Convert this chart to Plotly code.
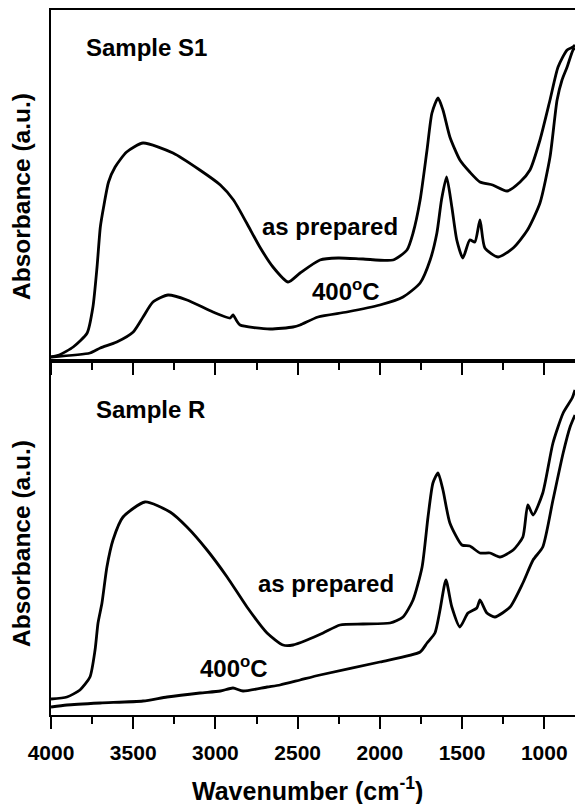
import plotly.graph_objects as go

# ---- data (wavenumber cm^-1, absorbance arbitrary units) ----
s1_prep_wn = [4000, 3950, 3865, 3780, 3745, 3720, 3700, 3680, 3650, 3610, 3540, 3440, 3258, 3095, 2970,
              2890, 2810, 2730, 2650, 2558, 2485, 2364, 2254, 2102, 1920, 1835, 1798, 1755, 1713, 1683,
              1646, 1616, 1574, 1513, 1453, 1391, 1314, 1226, 1147, 1087, 1026, 965, 916, 861, 825, 813]
s1_prep_ab = [4, 6, 14, 28, 54, 94, 134, 154, 179, 194, 209, 218, 208, 191, 176,
              161, 138, 114, 94, 79, 88, 101, 103, 102, 101, 111, 128, 161, 211, 248,
              263, 251, 224, 201, 189, 179, 176, 170, 179, 191, 221, 261, 294, 311, 314, 316]

s1_400_wn = [4000, 3763, 3700, 3600, 3500, 3440, 3380, 3288, 3173, 3015, 2910, 2893, 2870, 2850, 2668,
             2528, 2485, 2376, 2200, 2000, 1859, 1755, 1694, 1653, 1625, 1594, 1562, 1532, 1495, 1453,
             1422, 1391, 1361, 1280, 1189, 1102, 1026, 965, 922, 892, 861, 825, 813]
s1_400_ab = [4, 8, 13, 19, 29, 44, 59, 66, 61, 49, 43, 46, 40, 36, 32,
             34, 36, 44, 49, 56, 64, 78, 101, 128, 161, 184, 154, 121, 103, 121,
             119, 141, 113, 104, 113, 131, 158, 204, 261, 281, 294, 311, 313]

r_prep_wn = [4000, 3903, 3824, 3763, 3732, 3714, 3690, 3660, 3623, 3562, 3428, 3276, 3173, 3051, 2929,
             2808, 2686, 2589, 2528, 2443, 2345, 2242, 2102, 1938, 1859, 1798, 1743, 1707, 1677, 1646,
             1616, 1574, 1501, 1453, 1391, 1330, 1270, 1189, 1130, 1100, 1068, 1009, 947, 885, 830, 813]
r_prep_ab = [16, 18, 25, 38, 65, 92, 112, 148, 175, 198, 213, 203, 188, 165, 138,
             108, 82, 70, 70, 75, 82, 90, 91, 92, 98, 115, 148, 198, 232, 242,
             225, 192, 170, 169, 162, 162, 158, 165, 178, 210, 200, 222, 272, 302, 317, 325]

r_400_wn = [4000, 3903, 3700, 3440, 3294, 3094, 2970, 2893, 2832, 2686, 2607, 2485, 2364, 2000, 1755,
            1713, 1665, 1634, 1598, 1562, 1513, 1464, 1410, 1391, 1349, 1300, 1208, 1130, 1068, 1009,
            947, 885, 843, 813]
r_400_ab = [8, 10, 12, 14, 18, 22, 24, 27, 24, 28, 30, 35, 40, 53, 63,
            72, 82, 105, 135, 108, 88, 102, 107, 115, 102, 98, 108, 132, 155, 168,
            215, 262, 288, 300]

x_tickvals = [4000, 3500, 3000, 2500, 2000, 1500, 1000]
x_ticktext = ["4000", "3500", "3000", "2500", "2000", "1500", "1000"]

FONT = "Arial, Liberation Sans, sans-serif"
LW = 2.8

fig = go.Figure()
for xs, ys, xa, ya in [(s1_prep_wn, s1_prep_ab, "x2", "y2"), (s1_400_wn, s1_400_ab, "x2", "y2"),
                       (r_prep_wn, r_prep_ab, "x", "y"), (r_400_wn, r_400_ab, "x", "y")]:
    fig.add_trace(go.Scatter(x=xs, y=ys, mode="lines",
                             line=dict(color="black", width=LW, shape="spline", smoothing=0.6),
                             xaxis=xa, yaxis=ya))

split = 354 / 705

xcommon = dict(range=[4000, 813], showline=True, linecolor="black", linewidth=2, mirror=True,
               ticks="outside", ticklen=12, tickwidth=2, tickcolor="black",
               tickvals=x_tickvals, ticktext=x_ticktext, showgrid=False, zeroline=False,
               minor=dict(dtick=250, tick0=0, ticks="outside", ticklen=7, tickwidth=2, tickcolor="black", showgrid=False))
ycommon = dict(showline=True, linecolor="black", linewidth=2, mirror=False, ticks="",
               showticklabels=False, showgrid=False, zeroline=False)

fig.update_layout(
    width=575, height=804,
    margin=dict(l=51, r=0, t=10, b=89),
    paper_bgcolor="white", plot_bgcolor="white",
    showlegend=False,
    font=dict(family=FONT, color="black", size=20),
    xaxis=dict(**xcommon, anchor="y", ticklabelstandoff=6,
               tickfont=dict(family=FONT, size=21, color="black", weight="bold")),
    xaxis2=dict(**xcommon, anchor="y2", showticklabels=False),
    yaxis=dict(**ycommon, domain=[0, split], range=[0, 354], anchor="x"),
    yaxis2=dict(**ycommon, domain=[split, 1], range=[0, 351], anchor="x2"),
)

def ann(text, x, y, size=24, angle=0):
    fig.add_annotation(text="<b>" + text + "</b>", x=x, y=y, xref="paper", yref="paper",
                       xanchor="center", yanchor="middle", showarrow=False, textangle=angle,
                       font=dict(family=FONT, size=size, color="black"))

ann("Sample S1", 0.183, 0.9475)
ann("as prepared", 0.5324, 0.6936)
ann("400<sup>o</sup>C", 0.563, 0.6028)
ann("Sample R", 0.1908, 0.434)
ann("as prepared", 0.524, 0.187)
ann("400<sup>o</sup>C", 0.349, 0.068)
ann("Absorbance (a.u.)", -0.0553, 0.7348, size=24.5, angle=-90)
ann("Absorbance (a.u.)", -0.0553, 0.2426, size=24.5, angle=-90)
ann("Wavenumber (cm<sup>-1</sup>)", 0.4895, -0.105, size=25)

fig.write_html("out.html")
